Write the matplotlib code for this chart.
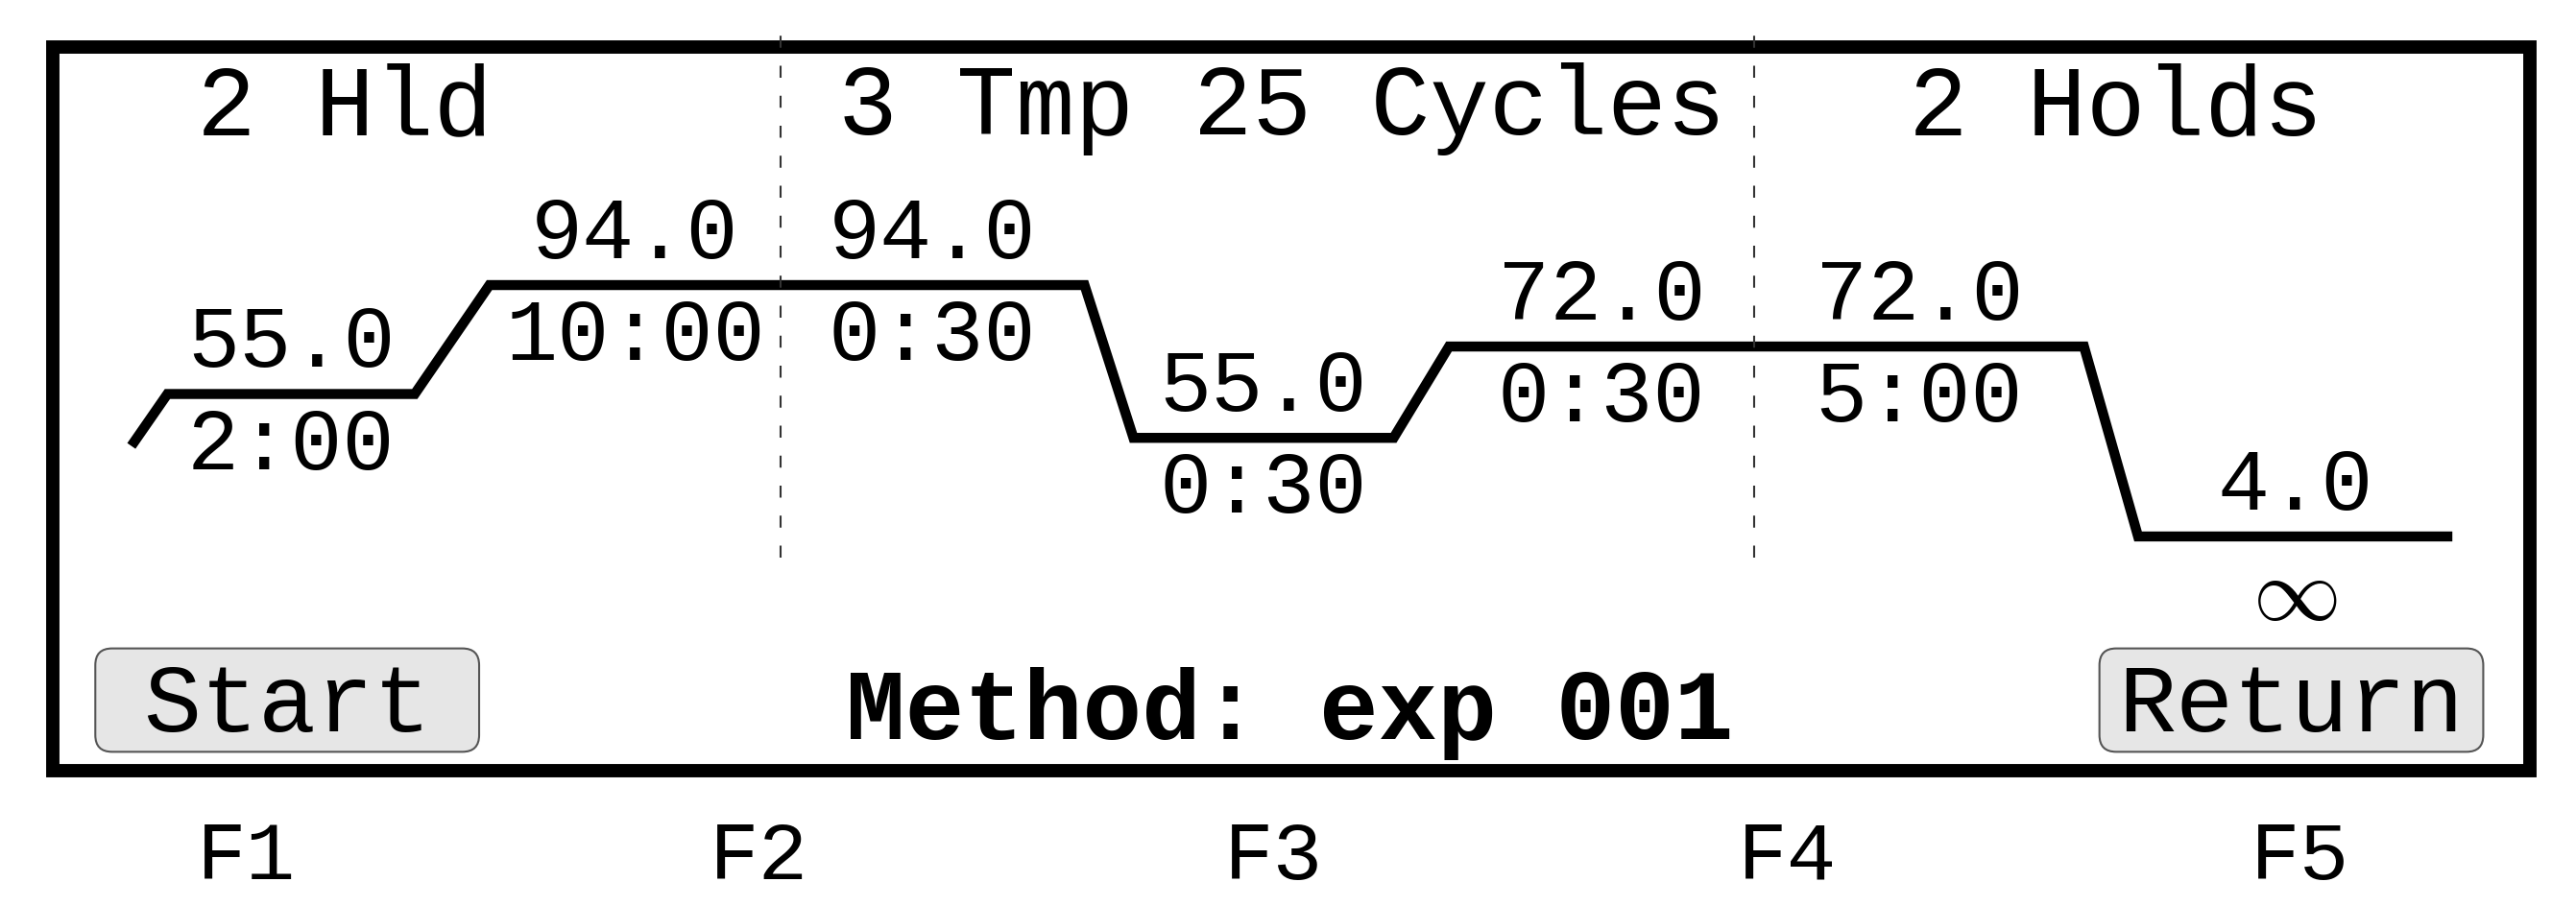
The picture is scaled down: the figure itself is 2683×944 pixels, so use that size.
import matplotlib.pyplot as plt
from matplotlib.patches import Rectangle, FancyBboxPatch

# thermal cycler screen: step profile
# x in percent of screen width, level = drawn height on the screen's temperature scale
ramp_in = (5.1, 36.4)
step_x0 = [6.5, 19.0, 30.3, 44.0, 56.25, 68.1, 83.0]
step_x1 = [16.1, 30.3, 42.1, 54.1, 68.1, 80.9, 95.2]
step_level = [55, 94, 94, 39.3, 72, 72, 4]
temps = ["55.0", "94.0", "94.0", "55.0", "72.0", "72.0", "4.0"]
times = ["2:00", "10:00", "0:30", "0:30", "0:30", "5:00", "\u221e"]

headers = ["2 Hld", "3 Tmp 25 Cycles", "2 Holds"]
header_x = [0.134, 0.4975, 0.8214]
section_breaks = [2, 5]  # dashed dividers at start of these steps

fkeys = ["F1", "F2", "F3", "F4", "F5"]
fkey_x = [0.0957, 0.2946, 0.4943, 0.6939, 0.8929]

method_name = "Method: exp 001"

plt.rcParams['font.family'] = ['Liberation Mono', 'DejaVu Sans Mono']

fig = plt.figure(figsize=(26.83, 9.45), dpi=100)
ax = fig.add_axes([0, 0, 1, 1])
ax.set_xlim(0, 100)
ax.set_ylim(-128.3, 196.4)
ax.axis('off')

# outer frame
ax.add_patch(Rectangle((0.0205, 0.149), 0.982 - 0.0205, 0.947 - 0.149,
                       transform=ax.transAxes, fill=False, lw=10,
                       edgecolor='black', joinstyle='miter'))

# profile line
xs = [ramp_in[0]]
ys = [ramp_in[1]]
for x0, x1, lv in zip(step_x0, step_x1, step_level):
    xs += [x0, x1]
    ys += [lv, lv]
ax.plot(xs, ys, color='black', lw=7.5, solid_joinstyle='miter', solid_capstyle='butt')

# temperature / time labels
for x0, x1, lv, t, tm in zip(step_x0, step_x1, step_level, temps, times):
    xc = (x0 + x1) / 2
    ax.annotate(t, (xc, lv), xytext=(0, 21), textcoords='offset points',
                ha='center', va='baseline', fontsize=65)
    if tm == "\u221e":
        # thin, wide infinity like the screen's
        ax.annotate(r'$\infty$', (xc, lv), xytext=(0, -14), textcoords='offset points',
                    ha='center', va='top', fontsize=66, math_fontfamily='cm')
    else:
        ax.annotate(tm, (xc, lv), xytext=(0, -8), textcoords='offset points',
                    ha='center', va='top', fontsize=65)

# section dividers
for i in section_breaks:
    ax.axvline(step_x0[i], ymin=0.384, ymax=0.966, color='#333333', lw=1.5,
               dashes=(6, 9))

for h, hx in zip(headers, header_x):
    ax.text(hx, 0.8514, h, transform=ax.transAxes, ha='center', va='baseline', fontsize=74)

# buttons
aspect = 2683 / 945
for bx0, bx1, label in [(0.037, 0.186, "Start"), (0.815, 0.964, "Return")]:
    ax.add_patch(FancyBboxPatch((bx0, 0.170), bx1 - bx0, 0.284 - 0.170,
                                boxstyle="round,pad=0,rounding_size=0.0065",
                                mutation_aspect=aspect, transform=ax.transAxes,
                                facecolor='#e6e6e6', edgecolor='#555555', lw=1.5))
    ax.text((bx0 + bx1) / 2, 0.194, label, transform=ax.transAxes,
            ha='center', va='baseline', fontsize=72)

ax.text(0.5006, 0.185, method_name, transform=ax.transAxes, ha='center',
        va='baseline', fontsize=74, fontweight='bold')

for k, kx in zip(fkeys, fkey_x):
    ax.text(kx, 0.031, k, transform=ax.transAxes, ha='center', va='baseline', fontsize=62)

plt.savefig('out.png', dpi=100)
